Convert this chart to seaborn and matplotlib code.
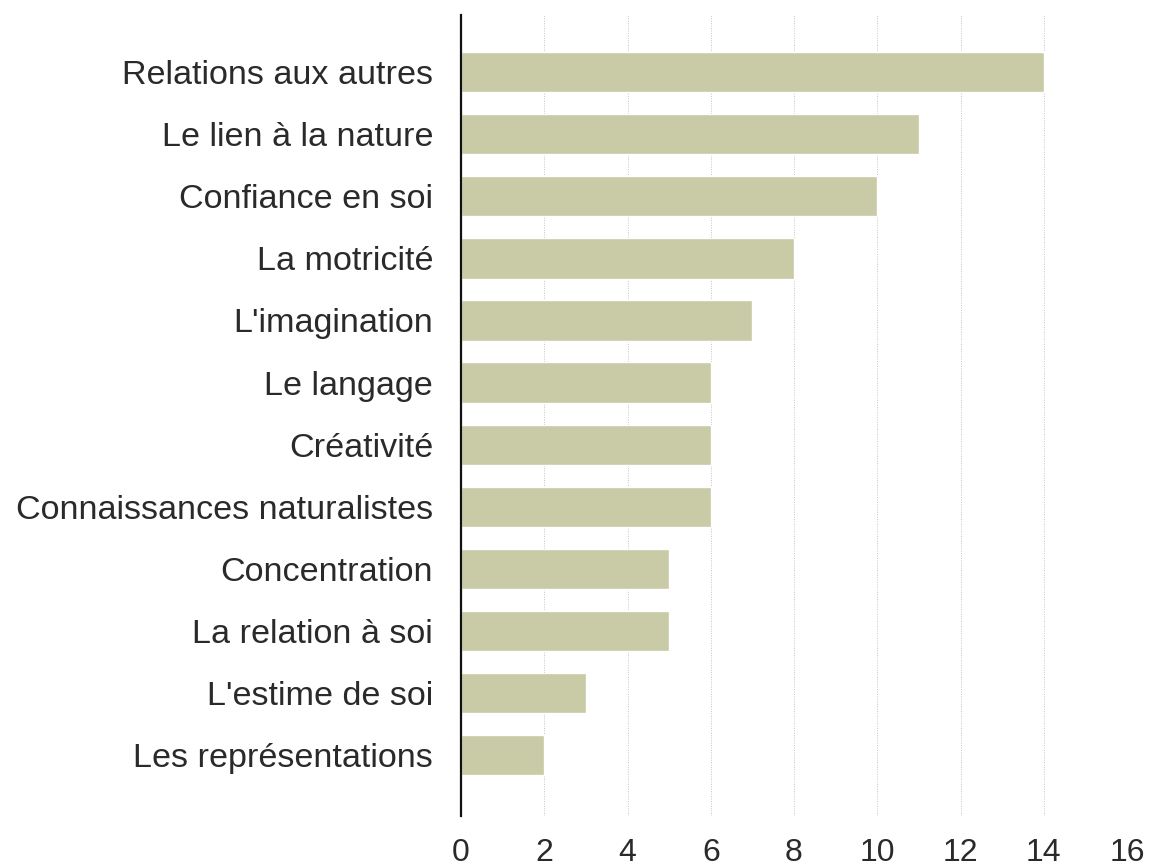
import matplotlib
matplotlib.use("Agg")
import matplotlib.pyplot as plt
import seaborn as sns
import pandas as pd

categories = ["Relations aux autres", "Le lien à la nature", "Confiance en soi",
              "La motricité", "L'imagination", "Le langage", "Créativité",
              "Connaissances naturalistes", "Concentration", "La relation à soi",
              "L'estime de soi", "Les représentations"]
values = [14, 11, 10, 8, 7, 6, 6, 6, 5, 5, 3, 2]
xticks = [0, 2, 4, 6, 8, 10, 12, 14, 16]

sns.set_theme(style="white")
plt.rcParams['font.family'] = ['Liberation Sans', 'DejaVu Sans']

df = pd.DataFrame({"cat": categories, "val": values})

fig = plt.figure(figsize=(11.51, 8.67), dpi=100)
ax = fig.add_axes([461/1151, 1-816/867, (1127-461)/1151, (816-15)/867])
sns.barplot(data=df, y="cat", x="val", orient="h", color="#c9caa6",
            saturation=1, width=0.65, ax=ax)
ax.set_xlim(0, 16)
ax.set_ylim(11.98, -0.92)
ax.set_xticks(xticks)
ax.set_xticklabels([str(t) for t in xticks], fontsize=23, color="#2a2a2a")
ax.tick_params(axis="y", labelsize=24.6, labelcolor="#2a2a2a", length=0, pad=20)
ax.tick_params(axis="x", length=0, pad=16)
ax.set_xlabel("")
ax.set_ylabel("")
ax.set_axisbelow(True)
ax.xaxis.grid(True, linestyle=(0, (1, 1.5)), color="#c4c4c4", linewidth=0.7)
ax.yaxis.grid(False)
for s in ["top", "right", "bottom"]:
    ax.spines[s].set_visible(False)
ax.spines["left"].set_color("#111111")
ax.spines["left"].set_linewidth(1.6)
ax.spines["left"].set_zorder(5)

fig.savefig("out.png", dpi=100, facecolor="white")
